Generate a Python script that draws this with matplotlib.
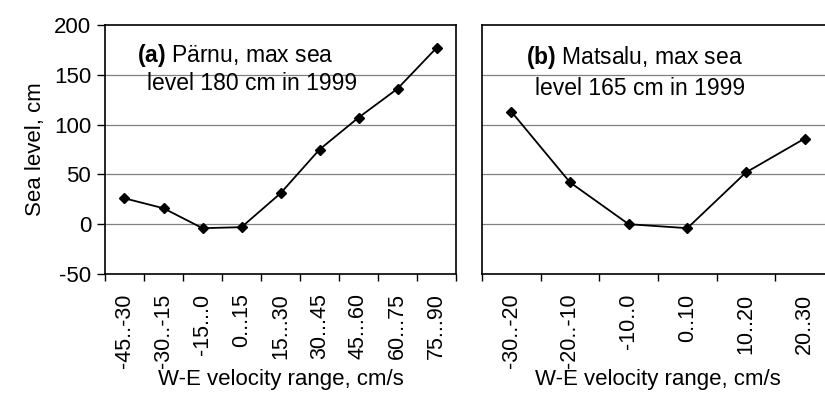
import numpy as np
import matplotlib.pyplot as plt

plt.rcParams['font.family'] = ['Liberation Sans', 'DejaVu Sans']
plt.rcParams['mathtext.fontset'] = 'custom'
plt.rcParams['mathtext.bf'] = 'Liberation Sans:bold'
plt.rcParams['mathtext.rm'] = 'Liberation Sans'

# 데이터
parnu_ranges = ['-45..-30', '-30..-15', '-15...0', '0...15', '15...30',
                '30...45', '45...60', '60...75', '75...90']
parnu_level = [26, 16, -4, -3, 31, 75, 107, 136, 177]

matsalu_ranges = ['-30..-20', '-20..-10', '-10..0', '0..10', '10..20', '20..30']
matsalu_level = [113, 42, 0, -4, 52, 86]

yticks = [-50, 0, 50, 100, 150, 200]
fs = 15.5

fig = plt.figure(figsize=(8.25, 3.93), dpi=100)
ax1 = fig.add_axes([105/825, 119/393, 351/825, 249/393])
ax2 = fig.add_axes([482/825, 119/393, 352/825, 249/393])


def draw(ax, cats, vals, show_y):
    x = np.arange(len(cats))
    ax.plot(x, vals, color='black', lw=1.3, marker='D', ms=5.5, zorder=3)
    ax.set_xlim(-0.5, len(cats) - 0.5)
    ax.set_ylim(-50, 200)
    ax.set_yticks(yticks)
    for y in yticks[1:-1]:
        ax.axhline(y, color='#808080', lw=0.9, zorder=1)
    # 라벨은 범주 중앙, 눈금은 범주 경계 (엑셀 스타일)
    ax.set_xticks(x)
    ax.set_xticklabels(cats, rotation=90, fontsize=fs)
    ax.set_xticks(np.arange(len(cats) + 1) - 0.5, minor=True)
    ax.tick_params(axis='x', which='major', length=0, pad=14)
    ax.tick_params(axis='x', which='minor', length=5, direction='out', width=1)
    if show_y:
        ax.set_yticklabels([str(v) for v in yticks], fontsize=16)
        ax.tick_params(axis='y', length=6, width=1, pad=4)
        ax.set_ylabel('Sea level, cm', fontsize=16, labelpad=6)
    else:
        ax.set_yticklabels([])
        ax.tick_params(axis='y', length=0)
    for s in ax.spines.values():
        s.set_color('black')
        s.set_linewidth(1.2)
    ax.set_xlabel('W-E velocity range, cm/s', fontsize=16, labelpad=1)
    return ax


draw(ax1, parnu_ranges, parnu_level, True)
draw(ax2, matsalu_ranges, matsalu_level, False)

ax1.text(0.37, 0.878, r'$\bf{(a)}$ Pärnu, max sea', transform=ax1.transAxes,
         ha='center', va='center', fontsize=16.5)
ax1.text(0.42, 0.765, 'level 180 cm in 1999', transform=ax1.transAxes,
         ha='center', va='center', fontsize=16.5)
ax2.text(0.432, 0.868, r'$\bf{(b)}$ Matsalu, max sea', transform=ax2.transAxes,
         ha='center', va='center', fontsize=16.5)
ax2.text(0.449, 0.745, 'level 165 cm in 1999', transform=ax2.transAxes,
         ha='center', va='center', fontsize=16.5)

fig.savefig('out.png', dpi=100)
